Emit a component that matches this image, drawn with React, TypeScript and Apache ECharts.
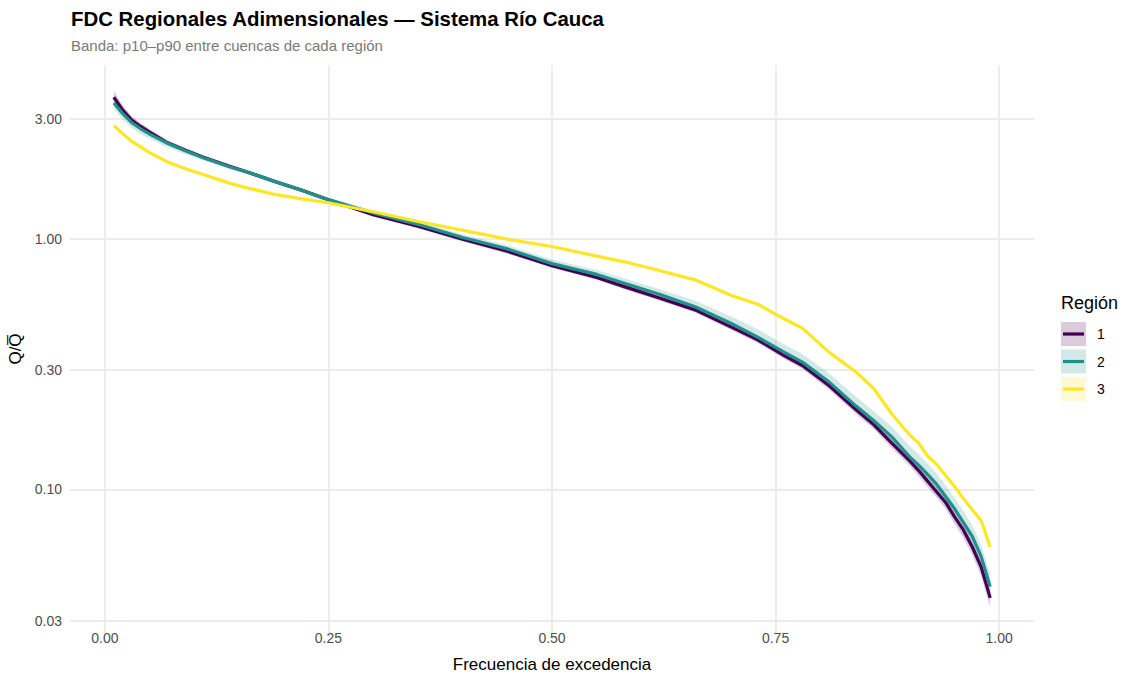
import React, { useEffect, useRef } from "react";
import * as echarts from "echarts";

// Exceedance frequency (shared by all regions)
const freq = [0.01, 0.02, 0.03, 0.04, 0.05, 0.07, 0.09, 0.11, 0.14, 0.16, 0.19, 0.22, 0.25, 0.30, 0.35, 0.40, 0.45, 0.50, 0.55, 0.58, 0.62, 0.66, 0.70, 0.73, 0.76, 0.78, 0.81, 0.84, 0.86, 0.88, 0.90, 0.91, 0.92, 0.93, 0.94, 0.95, 0.96, 0.97, 0.98, 0.99];

// Región 1 (median, p10, p90) of Q/Q̄
const r1Med = [3.66, 3.25, 2.97, 2.80, 2.66, 2.41, 2.25, 2.11, 1.94, 1.84, 1.69, 1.56, 1.43, 1.245, 1.12, 0.995, 0.89, 0.78, 0.70, 0.645, 0.58, 0.52, 0.445, 0.395, 0.341, 0.312, 0.259, 0.208, 0.181, 0.153, 0.130, 0.119, 0.108, 0.098, 0.089, 0.078, 0.069, 0.059, 0.049, 0.037];
const r1P10 = [3.52, 3.15, 2.89, 2.73, 2.60, 2.36, 2.21, 2.07, 1.91, 1.81, 1.66, 1.54, 1.41, 1.225, 1.10, 0.975, 0.87, 0.765, 0.685, 0.63, 0.567, 0.507, 0.433, 0.384, 0.331, 0.302, 0.250, 0.200, 0.174, 0.146, 0.124, 0.113, 0.102, 0.093, 0.084, 0.073, 0.064, 0.055, 0.045, 0.034];
const r1P90 = [3.88, 3.40, 3.08, 2.89, 2.74, 2.47, 2.30, 2.15, 1.98, 1.87, 1.72, 1.59, 1.45, 1.265, 1.14, 1.015, 0.91, 0.795, 0.715, 0.66, 0.594, 0.533, 0.457, 0.406, 0.351, 0.322, 0.268, 0.216, 0.188, 0.160, 0.136, 0.125, 0.114, 0.104, 0.094, 0.083, 0.073, 0.063, 0.052, 0.040];

// Región 2
const r2Med = [3.47, 3.15, 2.90, 2.74, 2.61, 2.40, 2.24, 2.10, 1.93, 1.84, 1.69, 1.56, 1.43, 1.265, 1.14, 1.01, 0.91, 0.795, 0.72, 0.665, 0.60, 0.535, 0.46, 0.405, 0.352, 0.322, 0.268, 0.215, 0.188, 0.162, 0.135, 0.125, 0.115, 0.105, 0.094, 0.084, 0.074, 0.065, 0.054, 0.041];
const r2P10 = [3.30, 2.98, 2.76, 2.61, 2.50, 2.31, 2.17, 2.05, 1.89, 1.80, 1.66, 1.53, 1.40, 1.235, 1.11, 0.985, 0.885, 0.77, 0.70, 0.645, 0.58, 0.517, 0.445, 0.39, 0.338, 0.309, 0.257, 0.206, 0.180, 0.155, 0.129, 0.119, 0.110, 0.100, 0.089, 0.080, 0.070, 0.061, 0.050, 0.038];
const r2P90 = [3.58, 3.24, 2.97, 2.80, 2.66, 2.44, 2.28, 2.14, 1.96, 1.87, 1.72, 1.59, 1.46, 1.295, 1.17, 1.04, 0.94, 0.825, 0.75, 0.695, 0.63, 0.565, 0.49, 0.435, 0.378, 0.347, 0.290, 0.234, 0.205, 0.178, 0.149, 0.138, 0.127, 0.116, 0.104, 0.093, 0.082, 0.072, 0.060, 0.046];

// Región 3
const r3Med = [2.82, 2.62, 2.44, 2.32, 2.20, 2.02, 1.90, 1.80, 1.66, 1.59, 1.50, 1.44, 1.39, 1.28, 1.17, 1.08, 0.995, 0.93, 0.852, 0.81, 0.746, 0.685, 0.595, 0.548, 0.478, 0.44, 0.352, 0.294, 0.252, 0.200, 0.165, 0.153, 0.136, 0.126, 0.114, 0.103, 0.092, 0.083, 0.075, 0.059];
const r3P10 = [2.76, 2.57, 2.40, 2.28, 2.17, 1.99, 1.875, 1.775, 1.64, 1.57, 1.48, 1.42, 1.37, 1.26, 1.155, 1.065, 0.98, 0.916, 0.84, 0.798, 0.735, 0.675, 0.586, 0.54, 0.471, 0.433, 0.347, 0.29, 0.248, 0.197, 0.162, 0.151, 0.134, 0.124, 0.112, 0.101, 0.0905, 0.0815, 0.0735, 0.058];
const r3P90 = [2.88, 2.67, 2.48, 2.36, 2.23, 2.05, 1.925, 1.825, 1.68, 1.61, 1.52, 1.46, 1.41, 1.30, 1.185, 1.095, 1.01, 0.944, 0.865, 0.822, 0.757, 0.695, 0.604, 0.556, 0.485, 0.447, 0.357, 0.298, 0.256, 0.203, 0.168, 0.155, 0.138, 0.128, 0.116, 0.105, 0.0935, 0.0845, 0.0765, 0.060];

const regionNames = ["1", "2", "3"];
const xTicks = [0, 0.25, 0.5, 0.75, 1];
const yTicks = [0.03, 0.1, 0.3, 1, 3];

const lineColors = ["#440154", "#21908C", "#FDE725"];
const bandColors = ["rgba(68,1,84,0.2)", "rgba(33,144,140,0.2)", "rgba(253,231,37,0.2)"];
const FONT = "'Liberation Sans', Arial, Helvetica, sans-serif";

const meds = [r1Med, r2Med, r3Med];
const lows = [r1P10, r2P10, r3P10];
const highs = [r1P90, r2P90, r3P90];

const lg = (v: number) => Math.log10(v);

function bandSeries(idx: number) {
  const lo = lows[idx];
  const hi = highs[idx];
  return {
    type: "custom",
    name: "banda " + regionNames[idx],
    silent: true,
    clip: true,
    z: 1,
    data: [[freq[0], lg(lo[0])]],
    encode: { x: 0, y: 1 },
    renderItem: (_params: any, api: any) => {
      const top = freq.map((f, i) => api.coord([f, lg(hi[i])]));
      const bot = freq.map((f, i) => api.coord([f, lg(lo[i])])).reverse();
      return {
        type: "polygon",
        shape: { points: top.concat(bot) },
        style: { fill: bandColors[idx] },
      };
    },
  };
}

function lineSeries(idx: number) {
  return {
    type: "line",
    name: regionNames[idx],
    z: 3 + idx,
    showSymbol: false,
    symbol: "none",
    smooth: false,
    data: freq.map((f, i) => [f, lg(meds[idx][i])]),
    lineStyle: { color: lineColors[idx], width: 3.2, cap: "butt", join: "round" },
    itemStyle: { color: lineColors[idx] },
  };
}

function legendGraphics() {
  const els: any[] = [
    {
      type: "text",
      left: 1061,
      top: 294,
      style: { text: "Región", fontSize: 18, fontFamily: FONT, fill: "#000000" },
    },
  ];
  const tops = [322, 349.5, 377];
  regionNames.forEach((n, i) => {
    els.push({
      type: "rect",
      shape: { x: 1061, y: tops[i], width: 25, height: 24 },
      style: { fill: bandColors[i] },
    });
    els.push({
      type: "line",
      shape: { x1: 1063, y1: tops[i] + 12, x2: 1084, y2: tops[i] + 12 },
      style: { stroke: lineColors[i], lineWidth: 3.2 },
    });
    els.push({
      type: "text",
      x: 1097,
      y: tops[i] + 12,
      style: { text: n, fontSize: 14, fontFamily: FONT, fill: "#000000", verticalAlign: "middle", align: "left" },
    });
  });
  return els;
}

export default function App() {
  const ref = useRef<HTMLDivElement>(null);
  useEffect(() => {
    document.body.style.margin = "0";
    if (!ref.current) return;
    const chart = echarts.init(ref.current, undefined, { renderer: "svg" });
    const yVals = yTicks.map(lg);
    chart.setOption({
      animation: false,
      backgroundColor: "#ffffff",
      textStyle: { fontFamily: FONT },
      title: {
        text: "FDC Regionales Adimensionales — Sistema Río Cauca",
        subtext: "Banda: p10–p90 entre cuencas de cada región",
        left: 71,
        top: 9,
        padding: 0,
        itemGap: 9,
        textStyle: { fontSize: 20.4, fontWeight: "bold", color: "#000000", fontFamily: FONT },
        subtextStyle: { fontSize: 15, color: "#7a7a7a", fontFamily: FONT },
      },
      grid: { left: 70, right: 92, top: 65, bottom: 44, containLabel: false, outerBoundsMode: "none" },
      xAxis: {
        type: "value",
        min: -0.039,
        max: 1.039,
        name: "Frecuencia de excedencia",
        nameLocation: "middle",
        nameGap: 23,
        nameTextStyle: { fontSize: 17, color: "#000000", fontFamily: FONT },
        axisLine: { show: false },
        axisTick: { show: false, customValues: xTicks },
        axisLabel: {
          customValues: xTicks,
          formatter: (v: number) => v.toFixed(2),
          color: "#4D4D4D",
          fontSize: 14,
          margin: -2,
          fontFamily: FONT,
        },
        splitLine: { show: true, customValues: xTicks, lineStyle: { color: "#EBEBEB", width: 1.8 } },
      },
      yAxis: {
        type: "value",
        min: -1.572,
        max: 0.692,
        name: "Q/Q\u0305",
        nameLocation: "middle",
        nameGap: 41,
        nameRotate: 90,
        nameTextStyle: { fontSize: 17, color: "#000000", fontFamily: FONT },
        axisLine: { show: false },
        axisTick: { show: false, customValues: yVals },
        axisLabel: {
          customValues: yVals,
          formatter: (v: number) => Math.pow(10, v).toFixed(2),
          color: "#4D4D4D",
          fontSize: 14,
          margin: 8,
          fontFamily: FONT,
        },
        splitLine: { show: true, customValues: yVals, lineStyle: { color: "#EBEBEB", width: 1.8 } },
      },
      series: [bandSeries(0), bandSeries(1), bandSeries(2), lineSeries(0), lineSeries(1), lineSeries(2)],
      graphic: legendGraphics(),
    });
    return () => chart.dispose();
  }, []);
  return <div ref={ref} style={{ width: 1126, height: 677 }} />;
}
